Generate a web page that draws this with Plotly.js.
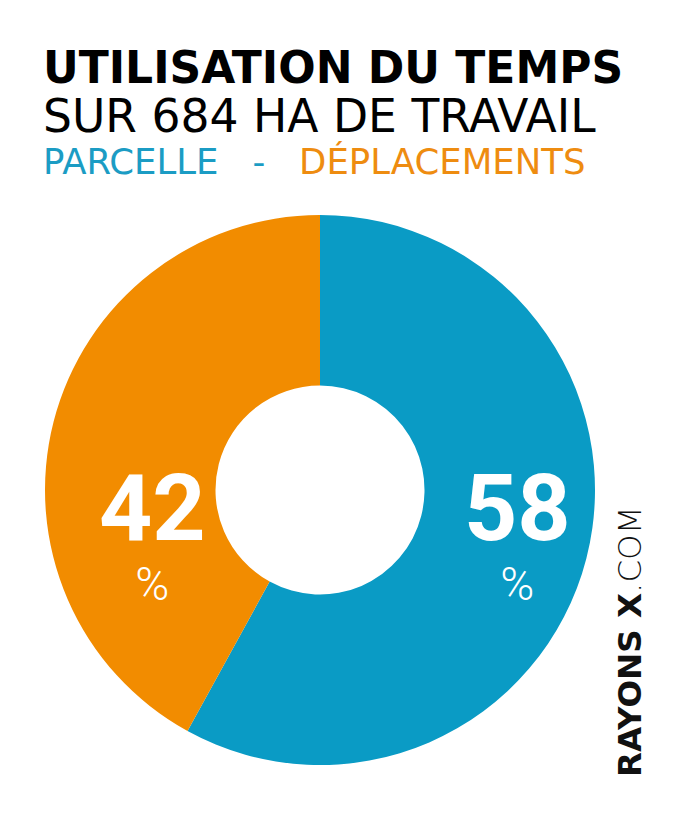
<!DOCTYPE html>
<html>
<head>
<meta charset="utf-8">
<script src="https://cdn.plot.ly/plotly-3.0.1.min.js"></script>
<style>html,body{margin:0;padding:0;background:#fff;}#chart{width:700px;height:837px;}</style>
</head>
<body>
<div id="chart"></div>
<script>
const categories = ["PARCELLE", "DÉPLACEMENTS"];
const values = [58, 42];
const colors = ["#0a9bc5", "#f28c00"];
const titleLines = ["UTILISATION DU TEMPS", "SUR 684 HA DE TRAVAIL"];

const dom = { x: [45/700, 595/700], y: [72/837, 622/837] };
const HOLE = 0.38;
// label placement (style): horizontal distance from centre per slice side, common height
const LABEL_DX = { right: 0.718, left: 0.61 };
const LABEL_Y = -0.153;

const pie = {
  type: "pie",
  labels: categories,
  values: values,
  marker: { colors: colors, line: { width: 0 } },
  hole: HOLE,
  sort: false,
  direction: "clockwise",
  rotation: 0,
  textinfo: "none",
  hoverinfo: "none",
  showlegend: false,
  domain: dom
};

// value labels: side chosen from each slice's mid-angle (clockwise from 12 o'clock), axis units where radius = 1
const total = values.reduce((a, b) => a + b, 0);
let cum = 0;
const valueLabels = values.map(v => {
  const mid = (cum + v / 2) / total * 2 * Math.PI;
  cum += v;
  const s = Math.sin(mid);
  return {
    x: s >= 0 ? LABEL_DX.right : -LABEL_DX.left, y: LABEL_Y, xref: "x", yref: "y",
    xanchor: "center", yanchor: "middle", showarrow: false,
    text: "<span style='font-size:93px'><b>" + v + "</b></span><br>%",
    font: { family: "Roboto, Arial, sans-serif", size: 46, color: "#ffffff", weight: 300 }
  };
});

const font = "'DejaVu Sans', Arial, sans-serif";
const hiddenAxis = (d) => ({ domain: d, range: [-1, 1], visible: false, showgrid: false, zeroline: false, fixedrange: true });
const layout = {
  width: 700, height: 837,
  margin: { l: 0, r: 0, t: 0, b: 0 },
  paper_bgcolor: "#ffffff",
  plot_bgcolor: "rgba(0,0,0,0)",
  showlegend: false,
  xaxis: hiddenAxis(dom.x),
  yaxis: hiddenAxis(dom.y),
  annotations: [
    { text: "<b>" + titleLines[0] + "</b>", x: 41/700, y: 1 - 40/837, xref: "paper", yref: "paper", xanchor: "left", yanchor: "top", showarrow: false,
      font: { family: font, size: 44, color: "#000000" } },
    { text: titleLines[1], x: 41/700, y: 1 - 88/837, xref: "paper", yref: "paper", xanchor: "left", yanchor: "top", showarrow: false,
      font: { family: font, size: 45.6, color: "#000000" } },
    { text: "<span style='color:#1b9cc4'>" + categories[0] + "</span>   -   <span style='color:#ee8c10'>" + categories[1] + "</span>", x: 41/700, y: 1 - 139/837, xref: "paper", yref: "paper", xanchor: "left", yanchor: "top", showarrow: false,
      font: { family: font, size: 35.5, color: "#1b9cc4" } },
    { text: "<b>RAYONS X</b>.COM", x: 630/700, y: 1 - 642/837, xref: "paper", yref: "paper", xanchor: "center", yanchor: "middle", showarrow: false, textangle: -90,
      font: { family: font, size: 32.5, color: "#111111", weight: 200 } }
  ].concat(valueLabels)
};

Plotly.newPlot("chart", [pie], layout, { displayModeBar: false, staticPlot: true });
</script>
</body>
</html>
